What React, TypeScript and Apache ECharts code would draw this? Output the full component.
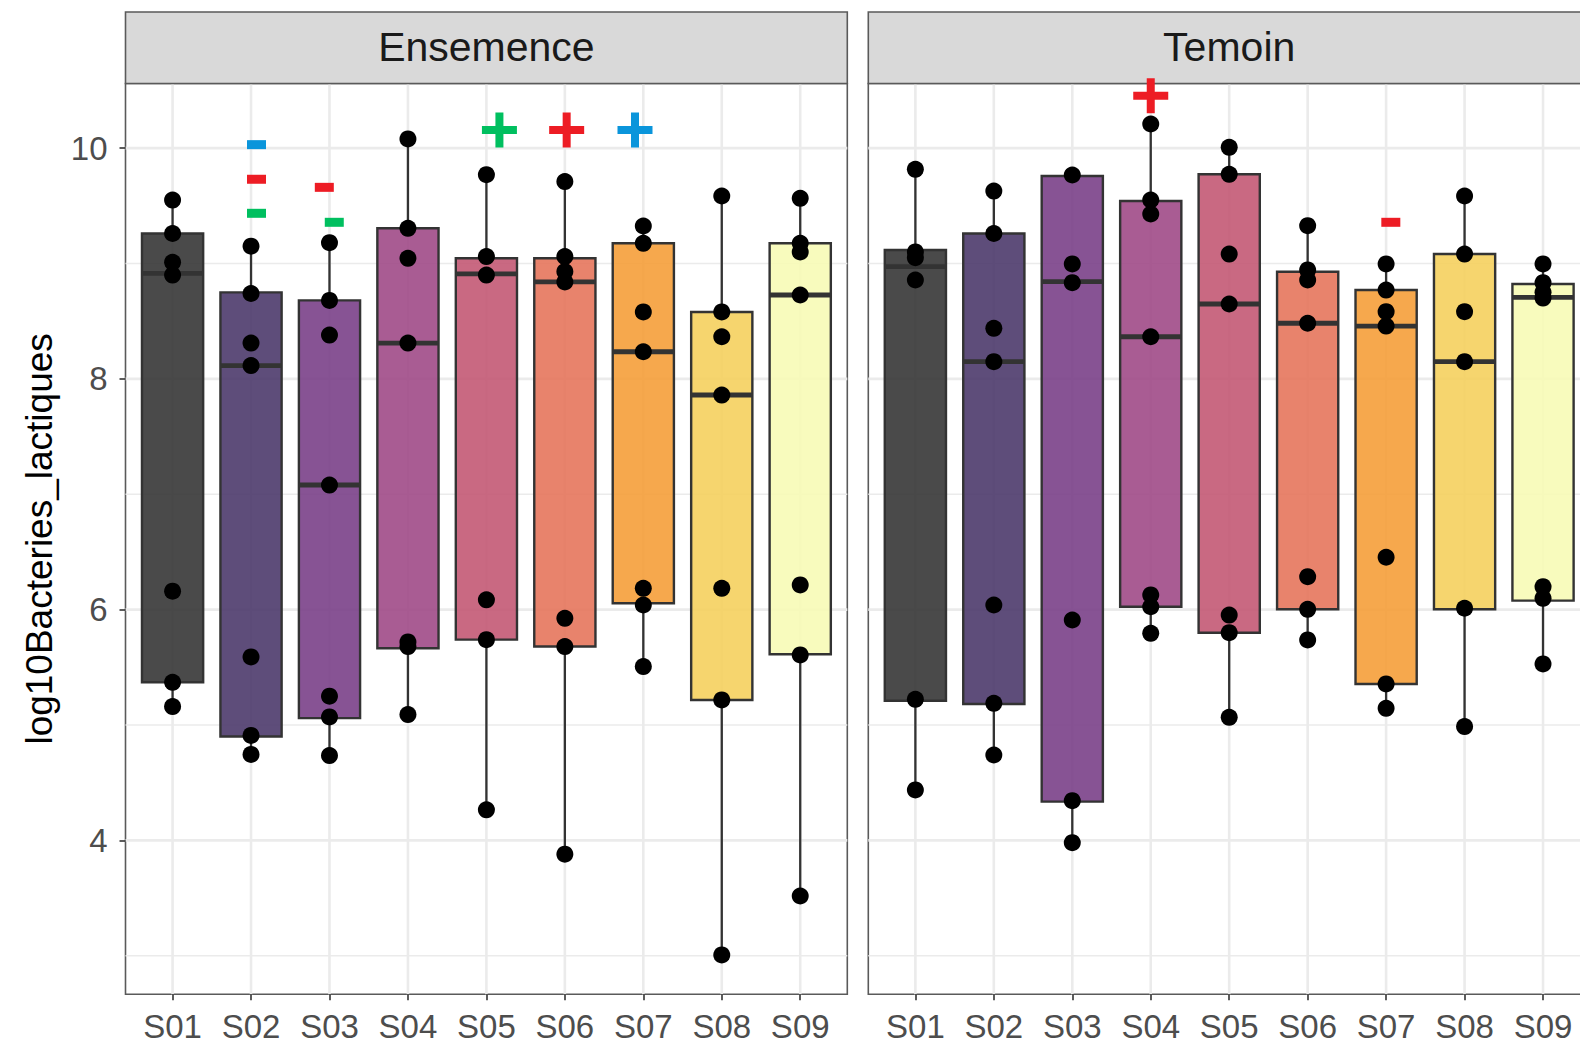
import React, { useEffect, useRef } from "react";
import * as echarts from "echarts";

const sites = ["S01", "S02", "S03", "S04", "S05", "S06", "S07", "S08", "S09"];
const panelNames = ["Ensemence", "Temoin"];
const yTicks = [4, 6, 8, 10];
const yMinorLines = [3, 5, 7, 9];
const yRange = [2.666, 10.56];

// Box statistics per site: [lower whisker, Q1, median, Q3, upper whisker]
const ensemenceBoxes = [
  [5.16, 5.37, 8.915, 9.26, 9.55],
  [4.745, 4.9, 8.115, 8.75, 9.15],
  [4.735, 5.06, 7.08, 8.68, 9.18],
  [5.09, 5.665, 8.31, 9.305, 10.08],
  [4.265, 5.74, 8.91, 9.045, 9.77],
  [3.88, 5.68, 8.84, 9.045, 9.71],
  [5.506, 6.055, 8.235, 9.175, 9.325],
  [3.007, 5.217, 7.86, 8.58, 9.585],
  [3.518, 5.613, 8.727, 9.175, 9.565],
];
const temoinBoxes = [
  [4.437, 5.21, 8.972, 9.117, 9.816],
  [4.74, 5.182, 8.149, 9.26, 9.628],
  [3.98, 4.336, 8.842, 9.758, 9.767],
  [5.795, 6.025, 8.365, 9.542, 10.209],
  [5.067, 5.8, 8.649, 9.773, 10.007],
  [5.737, 6.003, 8.482, 8.929, 9.328],
  [5.145, 5.356, 8.458, 8.77, 8.996],
  [4.986, 6.003, 8.149, 9.082, 9.585],
  [5.529, 6.078, 8.707, 8.822, 8.996],
];

// Individual observations per site
const ensemencePoints = [
  [9.55, 9.26, 9.01, 8.9, 6.16, 5.37, 5.16],
  [9.15, 8.74, 8.31, 8.115, 5.59, 4.91, 4.745],
  [9.18, 8.68, 8.38, 7.08, 5.25, 5.07, 4.735],
  [10.08, 9.305, 9.045, 8.31, 5.72, 5.68, 5.09],
  [9.77, 9.06, 8.9, 6.085, 5.74, 4.265],
  [9.71, 9.06, 8.93, 8.84, 5.925, 5.68, 3.88],
  [9.325, 9.175, 8.58, 8.235, 6.185, 6.04, 5.506],
  [9.585, 8.58, 8.365, 7.86, 6.185, 5.217, 3.007],
  [9.565, 9.175, 9.1, 8.727, 6.214, 5.607, 3.518],
];
const temoinPoints = [
  [9.816, 9.1, 9.05, 8.857, 5.223, 4.437],
  [9.628, 9.26, 8.438, 8.149, 6.04, 5.188, 4.74],
  [9.767, 8.996, 8.834, 5.91, 4.344, 3.98],
  [10.209, 9.55, 9.429, 8.365, 6.127, 6.025, 5.795],
  [10.007, 9.773, 9.082, 8.649, 5.953, 5.8, 5.067],
  [9.328, 8.944, 8.857, 8.482, 6.286, 6.003, 5.737],
  [8.996, 8.77, 8.582, 8.458, 6.454, 5.356, 5.145],
  [9.585, 9.082, 8.582, 8.149, 6.012, 4.986],
  [8.996, 8.834, 8.75, 8.7, 6.199, 6.098, 5.529],
];

// Significance marks: [site, nudge in category units, y, sign, colour key]
const ensemenceSigns = [
  ["S02", 0.07, 10.03, "-", "blue"],
  ["S02", 0.07, 9.73, "-", "red"],
  ["S02", 0.07, 9.435, "-", "green"],
  ["S03", -0.066, 9.66, "-", "red"],
  ["S03", 0.061, 9.357, "-", "green"],
  ["S05", 0.166, 10.157, "+", "green"],
  ["S06", 0.023, 10.157, "+", "red"],
  ["S07", -0.106, 10.157, "+", "blue"],
];
const temoinSigns = [
  ["S04", 0, 10.454, "+", "red"],
  ["S07", 0.06, 9.357, "-", "red"],
];

const signColors: Record<string, string> = {
  blue: "#0A95DB",
  red: "#ED1C24",
  green: "#00BF5F",
};

// Site fill colours (drawn with alpha 0.9)
const siteFills = [
  [54, 54, 54],
  [77, 58, 107],
  [122, 64, 136],
  [160, 74, 135],
  [195, 89, 116],
  [229, 117, 92],
  [245, 158, 58],
  [245, 208, 94],
  [247, 251, 182],
];

const FONT = "'Liberation Sans', Arial, Helvetica, sans-serif";
const BOX_WIDTH = 0.78;
const PLUS_PATH =
  "path://M13.5 0H21.5V13.5H35V21.5H21.5V35H13.5V21.5H0V13.5H13.5Z";

// The second panel runs past the right edge of the visible page, so the
// canvas is wider than the clipping wrapper.
const VIEW_W = 1580;
const VIEW_H = 1046;
const CANVAS_W = 1620;
const PANEL_LEFT = [125.5, 868.3];
const PANEL_TOP = 83.5;
const PANEL_W = 721.8;
const PANEL_H = 910.8;

function gridLineData() {
  const rows: number[][] = [];
  sites.forEach((_, i) => rows.push([i + 1, 6, 0]));
  yTicks.forEach((v) => rows.push([5, v, 1]));
  yMinorLines.forEach((v) => rows.push([5, v, 2]));
  return rows;
}

function renderGridLine(params: any, api: any) {
  const cs = params.coordSys;
  const kind = api.value(2);
  if (kind === 0) {
    const p = api.coord([api.value(0), yRange[0]]);
    return {
      type: "line",
      shape: { x1: p[0], y1: cs.y, x2: p[0], y2: cs.y + cs.height },
      style: { stroke: "#EBEBEB", lineWidth: 2.6 },
    };
  }
  const p = api.coord([1, api.value(1)]);
  return {
    type: "line",
    shape: { x1: cs.x, y1: p[1], x2: cs.x + cs.width, y2: p[1] },
    style: { stroke: "#EBEBEB", lineWidth: kind === 1 ? 2.6 : 1.3 },
  };
}

function renderBox(_params: any, api: any) {
  const x = api.value(0);
  const lo = api.value(1);
  const q1 = api.value(2);
  const med = api.value(3);
  const q3 = api.value(4);
  const hi = api.value(5);
  const c = siteFills[api.value(6)];
  const half = BOX_WIDTH / 2;
  const tl = api.coord([x - half, q3]);
  const br = api.coord([x + half, q1]);
  const mL = api.coord([x - half, med]);
  const mR = api.coord([x + half, med]);
  const pHi = api.coord([x, hi]);
  const pQ3 = api.coord([x, q3]);
  const pQ1 = api.coord([x, q1]);
  const pLo = api.coord([x, lo]);
  const edge = "#333333";
  return {
    type: "group",
    children: [
      {
        type: "line",
        shape: { x1: pHi[0], y1: pHi[1], x2: pQ3[0], y2: pQ3[1] },
        style: { stroke: edge, lineWidth: 2.3 },
      },
      {
        type: "line",
        shape: { x1: pQ1[0], y1: pQ1[1], x2: pLo[0], y2: pLo[1] },
        style: { stroke: edge, lineWidth: 2.3 },
      },
      {
        type: "rect",
        shape: { x: tl[0], y: tl[1], width: br[0] - tl[0], height: br[1] - tl[1] },
        style: {
          fill: `rgba(${c[0]},${c[1]},${c[2]},0.9)`,
          stroke: edge,
          lineWidth: 2.4,
        },
      },
      {
        type: "line",
        shape: { x1: mL[0], y1: mL[1], x2: mR[0], y2: mR[1] },
        style: { stroke: edge, lineWidth: 4.8 },
      },
    ],
  };
}

function boxData(boxes: number[][]) {
  return boxes.map((b, i) => [i + 1, b[0], b[1], b[2], b[3], b[4], i]);
}

function pointData(points: number[][]) {
  const rows: number[][] = [];
  points.forEach((vals, i) => vals.forEach((v) => rows.push([i + 1, v])));
  return rows;
}

function signData(signs: any[]) {
  return signs.map((s) => {
    const x = sites.indexOf(s[0]) + 1 + s[1];
    const isPlus = s[3] === "+";
    return {
      value: [x, s[2]],
      symbol: isPlus ? PLUS_PATH : "rect",
      symbolSize: isPlus ? [35, 35] : [19, 9],
      itemStyle: { color: signColors[s[4]] },
    };
  });
}

function buildOption() {
  const siteTickValues = sites.map((_, i) => i + 1);
  const grids = PANEL_LEFT.map((left) => ({
    left,
    top: PANEL_TOP,
    width: PANEL_W,
    height: PANEL_H,
    show: true,
    backgroundColor: "transparent",
    borderColor: "#5a5a5a",
    borderWidth: 1.6,
  }));
  const xAxes = PANEL_LEFT.map((_, g) => ({
    type: "value",
    gridIndex: g,
    min: 0.4,
    max: 9.6,
    axisLine: { show: false },
    splitLine: { show: false },
    axisTick: {
      show: true,
      customValues: siteTickValues,
      length: 6,
      lineStyle: { color: "#333333", width: 1.6 },
    },
    axisLabel: {
      show: true,
      customValues: siteTickValues,
      formatter: (v: number) => sites[Math.round(v) - 1] ?? "",
      fontSize: 33,
      fontFamily: FONT,
      color: "#4D4D4D",
      margin: 16,
    },
  }));
  const yAxes = PANEL_LEFT.map((_, g) => ({
    type: "value",
    gridIndex: g,
    min: yRange[0],
    max: yRange[1],
    axisLine: { show: false },
    splitLine: { show: false },
    axisTick: {
      show: g === 0,
      customValues: yTicks,
      length: 6,
      lineStyle: { color: "#333333", width: 1.6 },
    },
    axisLabel: {
      show: g === 0,
      customValues: yTicks,
      fontSize: 33,
      fontFamily: FONT,
      color: "#4D4D4D",
      margin: 18,
    },
  }));

  const boxSets = [ensemenceBoxes, temoinBoxes];
  const pointSets = [ensemencePoints, temoinPoints];
  const signSets = [ensemenceSigns, temoinSigns];

  const series: any[] = [];
  [0, 1].forEach((g) => {
    series.push({
      type: "custom",
      name: `grid-${panelNames[g]}`,
      xAxisIndex: g,
      yAxisIndex: g,
      z: 0,
      silent: true,
      renderItem: renderGridLine,
      encode: { x: 0, y: 1 },
      data: gridLineData(),
    });
    series.push({
      type: "custom",
      name: `box-${panelNames[g]}`,
      xAxisIndex: g,
      yAxisIndex: g,
      z: 2,
      renderItem: renderBox,
      encode: { x: 0, y: [1, 5] },
      data: boxData(boxSets[g]),
    });
    series.push({
      type: "scatter",
      name: `points-${panelNames[g]}`,
      xAxisIndex: g,
      yAxisIndex: g,
      z: 3,
      symbol: "circle",
      symbolSize: 17,
      itemStyle: { color: "#000000", opacity: 1 },
      data: pointData(pointSets[g]),
    });
    series.push({
      type: "scatter",
      name: `signs-${panelNames[g]}`,
      xAxisIndex: g,
      yAxisIndex: g,
      z: 4,
      itemStyle: { opacity: 1 },
      data: signData(signSets[g]),
    });
  });

  const graphic: any[] = [];
  PANEL_LEFT.forEach((left, g) => {
    graphic.push({
      type: "rect",
      shape: { x: left, y: 12, width: PANEL_W, height: PANEL_TOP - 12 },
      style: { fill: "#D9D9D9", stroke: "#5a5a5a", lineWidth: 1.6 },
      z: 1,
    });
    graphic.push({
      type: "text",
      x: left + PANEL_W / 2,
      y: 47,
      style: {
        text: panelNames[g],
        font: `41px ${FONT}`,
        fill: "#1A1A1A",
        align: "center",
        verticalAlign: "middle",
      },
      z: 2,
    });
  });
  graphic.push({
    type: "text",
    x: 39,
    y: PANEL_TOP + PANEL_H / 2,
    rotation: Math.PI / 2,
    style: {
      text: "log10Bacteries_lactiques",
      font: `37px ${FONT}`,
      fill: "#000000",
      align: "center",
      verticalAlign: "middle",
    },
  });

  return {
    animation: false,
    backgroundColor: "#ffffff",
    grid: grids,
    xAxis: xAxes,
    yAxis: yAxes,
    series,
    graphic,
  };
}

export default function App() {
  const ref = useRef<HTMLDivElement>(null);
  useEffect(() => {
    if (!ref.current) return;
    const chart = echarts.init(ref.current, undefined, {
      renderer: "svg",
      width: CANVAS_W,
      height: VIEW_H,
    });
    chart.setOption(buildOption() as any);
    return () => chart.dispose();
  }, []);
  return (
    <div
      style={{
        position: "absolute",
        left: 0,
        top: 0,
        width: VIEW_W,
        height: VIEW_H,
        overflow: "hidden",
        background: "#ffffff",
      }}
    >
      <div ref={ref} style={{ width: CANVAS_W, height: VIEW_H }} />
    </div>
  );
}
